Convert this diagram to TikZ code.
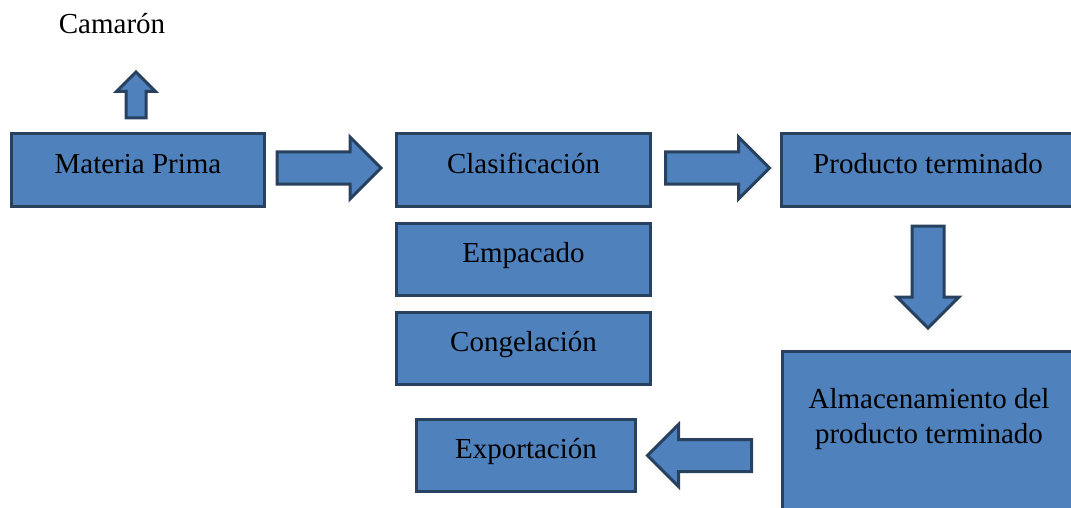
\documentclass[tikz,border=0pt]{standalone}
\usepackage{fontspec}
\setmainfont{Liberation Serif}
\usetikzlibrary{shapes.arrows,positioning,calc}
\definecolor{boxfill}{HTML}{4F81BD}
\definecolor{boxline}{HTML}{27415F}
\tikzstyle{txt} = [inner sep=0pt,font=\fontsize{29}{35}\selectfont]

\begin{document}
\begin{tikzpicture}
		[
		x=1pt,y=-1pt,
		block/.style={
		draw=boxline,
		fill=boxfill,
		line width=3pt,
		rectangle,
		text height=20pt,
		text depth=14pt,
		inner sep=2pt,
		minimum width=254pt,
		minimum height=72pt,
		font=\fontsize{29}{35}\selectfont},
		blockarrow/.style={
		single arrow,
		draw=boxline,
		fill=boxfill,
		line width=3pt,
		single arrow head extend=15pt,
		inner xsep=0pt,
		inner ysep=14.5pt,
		minimum width=59pt,
		minimum height=104pt,
		anchor=tail}
		]
		\useasboundingbox (0,0) rectangle (1071,508);
		\clip (0,0) rectangle (1071,508);
		\node[block,minimum width=253pt](mp) at (138,170) {Materia Prima};
		\node[block](cl) at (523.5,170) {Clasificación};
		\node[block,below of=cl,node distance=89pt](emp) {Empacado};
		\node[block,below of=emp,node distance=89pt](cong) {Congelación};
		\node[block,minimum width=219pt](exp) at (526,455.5) {Exportación};
		\node[block,minimum width=293pt](pt) at (928,170) {Producto terminado};
		\node[block,minimum width=293pt,minimum height=200pt,text height=0pt,text depth=0pt](alm) at (929,451.5) {};
		\node[txt,align=center](alm_text) at (929,419) {Almacenamiento del\\producto terminado};
		\node[txt,anchor=base](cam) at (112,34) {Camarón};
		% flechas
		\node[blockarrow,minimum width=36pt,minimum height=46pt,inner ysep=8.5pt,single arrow head extend=9.5pt,rotate=90](up) at ($(mp.north)+(-2,-13)$) {};
		\node[blockarrow](a_cl) at ($(mp.east)+(9.5,-2)$) {};
		\node[blockarrow](a_pt) at ($(cl.east)+(12,-2)$) {};
		\node[blockarrow,rotate=-90,minimum height=102pt](a_alm) at ($(pt.south)+(0,17)$) {};
		\node[blockarrow,rotate=180](a_exp) at ($(exp.east -| alm.west)+(-28,0)$) {};
		\end{tikzpicture}
\end{document}
